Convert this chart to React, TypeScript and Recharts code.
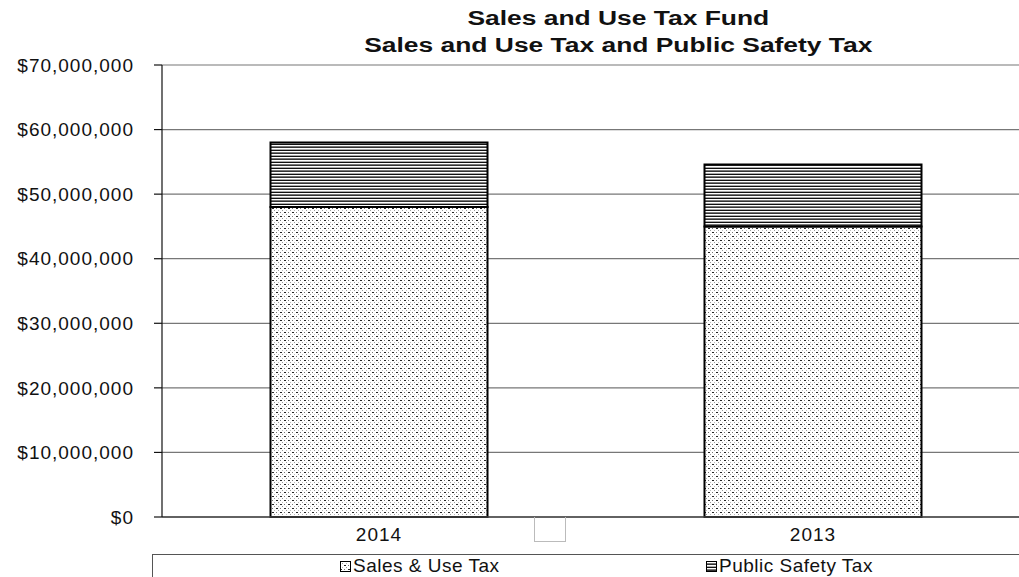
import React from 'react'
import { BarChart, Bar, XAxis, YAxis, CartesianGrid, Legend } from 'recharts'

const years = ['2014', '2013']
const salesUseTax = [48000000, 45000000]
const publicSafetyTax = [10000000, 9600000]
const yTicks = [0, 10000000, 20000000, 30000000, 40000000, 50000000, 60000000, 70000000]

const data = years.map((year, i) => ({
  year,
  sales: salesUseTax[i],
  safety: publicSafetyTax[i],
}))

const FONT = '"Liberation Sans", Arial, sans-serif'

const fmtMoney = (v: number) => '$' + v.toLocaleString('en-US')

function Patterns() {
  return (
    <defs>
      <pattern id="dots" width="8" height="8" patternUnits="userSpaceOnUse">
        <rect width="8" height="8" fill="#fff" />
        <rect x="0" y="0" width="2" height="1" fill="#222" />
        <rect x="4" y="4" width="2" height="1" fill="#222" />
        <rect x="4" y="0" width="1" height="1" fill="#777" />
        <rect x="0" y="4" width="1" height="1" fill="#777" />
        <rect x="2" y="2" width="1" height="1" fill="#999" />
        <rect x="6" y="6" width="1" height="1" fill="#999" />
        <rect x="6" y="2" width="1" height="1" fill="#bbb" />
        <rect x="2" y="6" width="1" height="1" fill="#bbb" />
      </pattern>
      <pattern id="stripes" width="8" height="6" patternUnits="userSpaceOnUse">
        <rect width="8" height="6" fill="#fff" />
        <rect y="0" width="8" height="1" fill="#111" />
        <rect y="2" width="8" height="1" fill="#777" />
        <rect y="3" width="8" height="1" fill="#333" />
        <rect y="5" width="8" height="1" fill="#aaa" />
      </pattern>
    </defs>
  )
}

function LegendBox() {
  const item = (left: number, fill: string, label: string) => (
    <div style={{ position: 'absolute', left, top: 0, display: 'flex', alignItems: 'center' }}>
      <svg width="11" height="11" style={{ marginRight: 2 }}>
        <rect x="0.5" y="0.5" width="10" height="10" fill={fill} stroke="#000" />
      </svg>
      <span style={{ fontSize: 19, color: '#111', letterSpacing: 0.5 }}>{label}</span>
    </div>
  )
  return (
    <div
      style={{
        position: 'relative',
        width: 900,
        height: 40,
        borderTop: '1.5px solid #555',
        borderLeft: '1.5px solid #555',
        fontFamily: FONT,
      }}
    >
      {item(187, 'url(#dots)', 'Sales & Use Tax')}
      {item(553, 'url(#stripes)', 'Public Safety Tax')}
    </div>
  )
}

export default function App() {
  return (
    <div
      style={{
        position: 'absolute',
        left: 0,
        top: 0,
        width: 1019,
        height: 577,
        overflow: 'hidden',
        background: '#fff',
        fontFamily: FONT,
      }}
    >
      <div
        style={{
          position: 'absolute',
          left: 0,
          top: 5,
          width: 1236,
          textAlign: 'center',
          fontWeight: 'bold',
          fontSize: 20,
          lineHeight: '27px',
          color: '#111',
          transform: 'scaleX(1.32)',
          transformOrigin: '617px 0',
        }}
      >
        Sales and Use Tax Fund
        <br />
        Sales and Use Tax and Public Safety Tax
      </div>
      <svg width="0" height="0" style={{ position: 'absolute' }}>
        <Patterns />
      </svg>
      <BarChart
        width={1030}
        height={600}
        data={data}
        margin={{ top: 65, right: 0, left: 0, bottom: 53 }}
        barCategoryGap="25%"
      >
        <CartesianGrid vertical={false} stroke="#777" strokeWidth={1.2} />
        <XAxis
          dataKey="year"
          height={30}
          tickLine={false}
          tickSize={0}
          tickMargin={11}
          axisLine={{ stroke: '#444', strokeWidth: 1.5 }}
          tick={{ fill: '#111', fontSize: 19, fontFamily: FONT, letterSpacing: 1 }}
        />
        <YAxis
          width={162}
          domain={[0, 70000000]}
          ticks={yTicks}
          interval={0}
          tickFormatter={fmtMoney}
          tickSize={8}
          tickMargin={20}
          axisLine={{ stroke: '#111', strokeWidth: 1.2 }}
          tickLine={{ stroke: '#111', strokeWidth: 1.2 }}
          tick={{ fill: '#111', fontSize: 19, fontFamily: FONT, letterSpacing: 1 }}
        />
        <Legend
          layout="horizontal"
          verticalAlign="middle"
          align="center"
          wrapperStyle={{ top: 554, left: 152, width: 900 }}
          content={() => <LegendBox />}
        />
        <Bar
          dataKey="sales"
          stackId="a"
          name="Sales & Use Tax"
          fill="url(#dots)"
          stroke="#000"
          strokeWidth={2}
          isAnimationActive={false}
        />
        <Bar
          dataKey="safety"
          stackId="a"
          name="Public Safety Tax"
          fill="url(#stripes)"
          stroke="#000"
          strokeWidth={2}
          isAnimationActive={false}
        />
      </BarChart>
      <div
        style={{
          position: 'absolute',
          left: 534,
          top: 517,
          width: 30,
          height: 24,
          border: '1px solid #bbb',
          borderTop: 'none',
        }}
      />
    </div>
  )
}
